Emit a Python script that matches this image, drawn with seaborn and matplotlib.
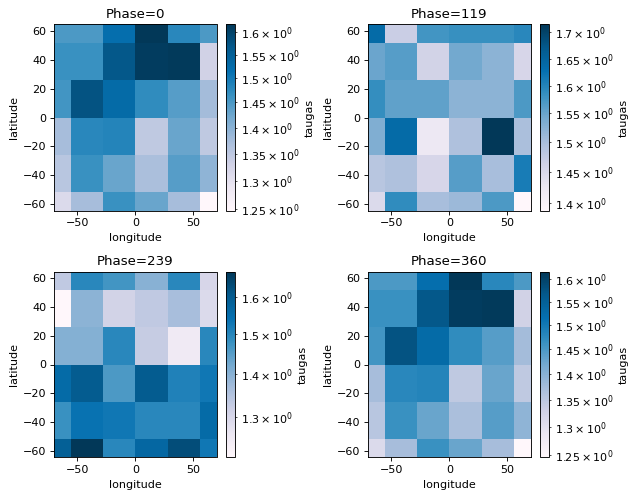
import matplotlib
matplotlib.use("Agg")
import matplotlib.pyplot as plt
import numpy as np
import seaborn as sns
from matplotlib.colors import LogNorm

# grid cell centres (outer cells are clipped to the centre line by the limits)
lon = [-70, -42, -14, 14, 42, 70]
lat = [64.29, 38.57, 12.86, -12.86, -38.57, -64.29]

phases = [0, 119, 239, 360]

# taugas per phase, rows = lat (north -> south), cols = lon (west -> east)
taugas_0 = [
    [1.450, 1.450, 1.519, 1.617, 1.480, 1.450],
    [1.465, 1.465, 1.567, 1.609, 1.613, 1.330],
    [1.457, 1.575, 1.527, 1.472, 1.442, 1.376],
    [1.373, 1.480, 1.484, 1.348, 1.427, 1.348],
    [1.355, 1.465, 1.427, 1.369, 1.442, 1.394],
    [1.313, 1.373, 1.465, 1.427, 1.373, 1.2465],
]
taugas_119 = [
    [1.637, 1.469, 1.576, 1.583, 1.583, 1.596],
    [1.549, 1.5625, 1.460, 1.543, 1.523, 1.4536],
    [1.586, 1.556, 1.556, 1.523, 1.523, 1.569],
    [1.533, 1.637, 1.423, 1.494, 1.7156, 1.4976],
    [1.485, 1.494, 1.4536, 1.5625, 1.5008, 1.610],
    [1.4475, 1.589, 1.5008, 1.510, 1.569, 1.3873],
]
taugas_239 = [
    [1.3345, 1.499, 1.470, 1.4008, 1.499, 1.3006],
    [1.2114, 1.3963, 1.309, 1.3345, 1.365, 1.292],
    [1.4053, 1.4053, 1.499, 1.326, 1.2511, 1.499],
    [1.558, 1.599, 1.461, 1.599, 1.5086, 1.528],
    [1.480, 1.538, 1.528, 1.499, 1.499, 1.558],
    [1.5886, 1.6728, 1.499, 1.5683, 1.630, 1.528],
]
taugas_360 = [
    [1.450, 1.450, 1.519, 1.617, 1.480, 1.450],
    [1.465, 1.465, 1.567, 1.609, 1.613, 1.330],
    [1.457, 1.575, 1.527, 1.472, 1.442, 1.376],
    [1.373, 1.480, 1.484, 1.348, 1.427, 1.348],
    [1.355, 1.465, 1.427, 1.369, 1.442, 1.394],
    [1.313, 1.373, 1.465, 1.427, 1.373, 1.2465],
]

fields = [taugas_0, taugas_119, taugas_239, taugas_360]
cmap = sns.color_palette("PuBu", as_cmap=True)

# panel placement in figure fractions: (axes left, cbar left, bottom)
W, H = 636, 497
lefts = [(54.3, 226), (368.3, 540)]
bottoms = [(24.3, 210.7), (271.7, 457.3)]
ax_w, cb_w = 162.2, 9

fig = plt.figure(figsize=(W / 80, H / 80), dpi=80)
for i, (phase, field) in enumerate(zip(phases, fields)):
    (axl, cbl), (top, bot) = lefts[i % 2], bottoms[i // 2]
    rect_y = 1 - bot / H
    rect_h = (bot - top) / H
    ax = fig.add_axes([axl / W, rect_y, ax_w / W, rect_h])
    cax = fig.add_axes([cbl / W, rect_y, cb_w / W, rect_h])

    z = np.asarray(field)
    mesh = ax.pcolormesh(lon, lat, z, cmap=cmap, shading="nearest",
                         norm=LogNorm(vmin=z.min(), vmax=z.max()))
    ax.set_xlim(min(lon), max(lon))
    ax.set_ylim(min(lat), max(lat))
    ax.set_title(f"Phase={phase}")
    ax.set_xlabel("longitude")
    ax.set_ylabel("latitude")
    fig.colorbar(mesh, cax=cax, label="taugas")

fig.savefig("out.png", dpi=80)
